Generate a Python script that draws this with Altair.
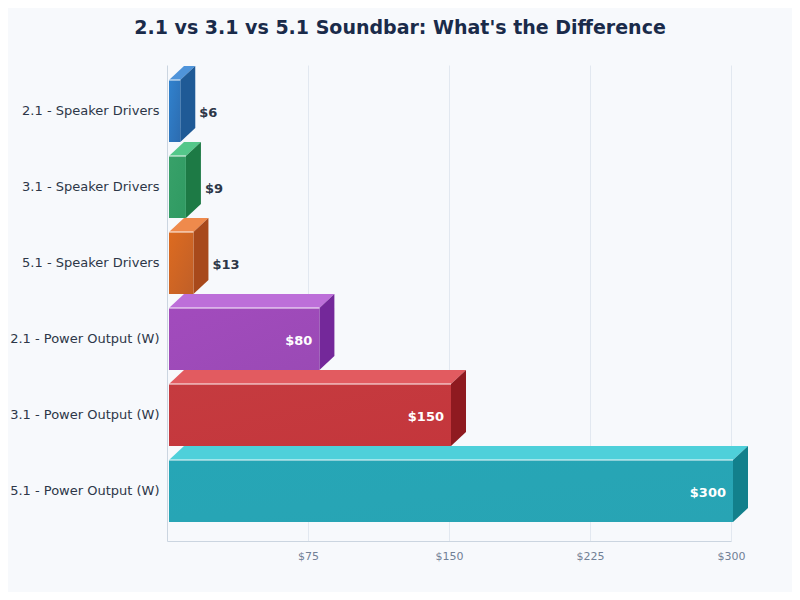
import altair as alt
import pandas as pd

categories = ["2.1 - Speaker Drivers", "3.1 - Speaker Drivers", "5.1 - Speaker Drivers",
              "2.1 - Power Output (W)", "3.1 - Power Output (W)", "5.1 - Power Output (W)"]
values = [6, 9, 13, 80, 150, 300]
value_labels = ["$6", "$9", "$13", "$80", "$150", "$300"]
front_light = ["#3182ce", "#38a169", "#dd6b20", "#a24bbd", "#c53b3f", "#26a6b6"]
front_dark = ["#2c6cb0", "#2f9a62", "#c05f28", "#9a4ab5", "#c4363c", "#28a4b4"]
top_colors = ["#4f94da", "#54c78a", "#ef8a4c", "#bd6fd9", "#e25b60", "#4ed0da"]
side_colors = ["#1f5a96", "#1d7a45", "#a8491b", "#74289a", "#8f1a20", "#12808c"]

PX_PER_X = 564 / 300
PX_PER_ROW = 76
PAD = 2 / PX_PER_X
DX = 15 / PX_PER_X
DY = 14 / PX_PER_ROW
HALF = 31 / PX_PER_ROW

top_rows, side_rows, front_rows = [], [], []
for i, v in enumerate(values):
    x0, x1 = PAD, v + PAD
    front_rows.append(dict(i=i, x0=x0, x1=x1, y0=i - HALF, y1=i + HALF, v=v, label=value_labels[i], tx=x1 + DX))
    top_rows.append(dict(i=i, y=i - HALF, a=x0, b=x1))
    top_rows.append(dict(i=i, y=i - HALF - DY, a=x0 + DX, b=x1 + DX))
    side_rows.append(dict(i=i, x=x1, a=i - HALF, b=i + HALF))
    side_rows.append(dict(i=i, x=x1 + DX, a=i - HALF - DY, b=i + HALF - DY))
front = pd.DataFrame(front_rows)
top = pd.DataFrame(top_rows)
side = pd.DataFrame(side_rows)

x_scale = alt.Scale(domain=[0, 300], nice=False, zero=False)
y_scale = alt.Scale(domain=[-46 / 76, 430 / 76], reverse=True, nice=False, zero=False)
names_expr = "[" + ",".join(repr(c) for c in categories) + "][datum.value]"

base = alt.Chart(front).mark_rule(opacity=0).encode(
    x=alt.X("x0:Q", scale=x_scale,
            axis=alt.Axis(values=[75, 150, 225, 300], title=None, labelExpr="'$' + datum.value",
                          labelFontSize=11, labelColor="#718096", labelPadding=9, tickSize=0,
                          domainColor="#cbd5e0", gridColor="#e2e8f0", grid=True, labelFlush=False,
                          labelOverlap=False)),
    y=alt.Y("y0:Q", scale=y_scale,
            axis=alt.Axis(values=[0, 1, 2, 3, 4, 5], title=None, labelExpr=names_expr, labelFontSize=13,
                          labelColor="#2d3748", labelPadding=8, labelBaseline="middle", labelOffset=-1,
                          tickSize=0, grid=False, domainColor="#cbd5e0", labelOverlap=False)),
)

layers = [base]
for i in range(6):
    grad = alt.LinearGradient(gradient="linear", x1=0, y1=0, x2=1, y2=1,
                              stops=[alt.GradientStop(color=front_light[i], offset=0),
                                     alt.GradientStop(color=front_dark[i], offset=1)])
    f = front[front.i == i]
    t = top[top.i == i]
    s = side[side.i == i]
    layers.append(alt.Chart(t).mark_area(orient="horizontal", color=top_colors[i]).encode(
        y=alt.Y("y:Q", scale=y_scale), x=alt.X("a:Q", scale=x_scale), x2="b:Q"))
    layers.append(alt.Chart(s).mark_area(orient="vertical", color=side_colors[i]).encode(
        x=alt.X("x:Q", scale=x_scale), y=alt.Y("a:Q", scale=y_scale), y2="b:Q"))
    layers.append(alt.Chart(f).mark_rect(color=grad).encode(
        x=alt.X("x0:Q", scale=x_scale), x2="x1:Q", y=alt.Y("y0:Q", scale=y_scale), y2="y1:Q"))
    layers.append(alt.Chart(f).mark_rule(color="#ffffff", opacity=0.95, strokeWidth=1).encode(
        x=alt.X("x0:Q", scale=x_scale), x2="x1:Q", y=alt.Y("y0:Q", scale=y_scale)))

inside = front[front.v >= 50]
outside = front[front.v < 50]
layers.append(alt.Chart(outside).mark_text(align="left", baseline="middle", dx=4, dy=2, fontSize=13,
                                           fontWeight="bold", color="#2d3748").encode(
    x=alt.X("tx:Q", scale=x_scale), y=alt.Y("i:Q", scale=y_scale), text="label:N"))
layers.append(alt.Chart(inside).mark_text(align="right", baseline="middle", dx=-7, dy=2, fontSize=13,
                                          fontWeight="bold", color="#ffffff").encode(
    x=alt.X("x1:Q", scale=x_scale), y=alt.Y("i:Q", scale=y_scale), text="label:N"))

chart = alt.layer(*layers).properties(
    width=564, height=476,
    background="#f7f9fc",
    autosize=alt.AutoSizeParams(type="none"),
    padding={"left": 159, "top": 57, "right": 61, "bottom": 51},
    title=alt.TitleParams("2.1 vs 3.1 vs 5.1 Soundbar: What's the Difference", fontSize=19, fontWeight="bold",
                          color="#1a2b4a", anchor="middle", dx=-49, offset=27),
).configure(font="DejaVu Sans").configure_view(stroke="transparent", strokeWidth=0)

chart.save("out.html", embed_options={"renderer": "svg", "actions": False})
